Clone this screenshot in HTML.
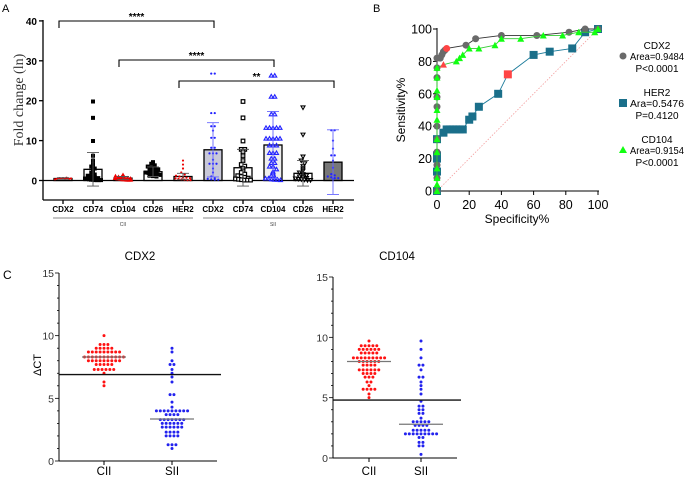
<!DOCTYPE html>
<html><head><meta charset="utf-8"><style>
body{margin:0;background:#fff;}
svg{display:block;font-family:"Liberation Sans",sans-serif;}
</style></head><body>
<svg id="fig" width="685" height="477" viewBox="0 0 685 477">
<g id="pa"></g>
<g id="pb"></g>
<g id="pc"></g>
</svg>
<script>
// ---------- Panel A data ----------
const aCats=["CDX2","CD74","CD104","CD26","HER2","CDX2","CD74","CD104","CD26","HER2"];
const aMeans=[0.5,2.8,0.6,2.2,1.0,7.7,3.2,8.9,1.8,4.6];
const aSD=[0.2,4.2,0.4,1.2,0.8,6.8,4.6,8.4,3.2,8.1];
const aPts0=[0.3,0.4,0.5,0.5,0.6,0.5,0.4,0.6,0.7,0.5,0.4,0.5];
const aPts1=[19.8,15.7,9.9,6.2,5,4,3.5,3,2.5,2,1.5,1.2,1,0.8,0.6,0.5,0.4,0.3,0.2,0.2,0.1,0.1,0.1,0.1];
const aPts2=[1.5,1.2,1,0.9,0.8,0.7,0.6,0.5,0.5,0.4,0.4,0.3,0.3,0.2,0.2,0.2,0.1,0.1,0.1,0.1,0.1];
const aPts3=[4.6,4.2,3.8,3.5,3.2,3,2.8,2.6,2.4,2.2,2,1.9,1.8,1.6,1.5,1.4,1.2,1.1,1];
const aPts4=[5,4,3,2,1.5,1.2,1,0.8,0.7,0.6,0.5,0.4,0.3,0.2,0.1,0.1];
const aPts5=[26.8,26.8,16.9,16.9,13.6,13.6,12.5,10.7,10.7,8.2,8.2,6.8,6.8,6.8,5.2,4.2,4.2,4.2,3,2,1,0.6,0.4,0.3,0.2,0.2];
const aPts6=[19.8,15.7,9.9,7.8,7.8,7.2,6.2,5,4,3.6,3,2.4,2,1.6,1.2,1,0.8,0.6,0.4,0.3,0.2,0.1,0.1,0.1];
const aPts7=[26.3,26.3,21,21,16.6,16.6,13.2,13.2,13.2,13.2,13.2,10.5,10.5,10.5,10.5,10.5,8.8,8.8,8.8,6.9,6.9,6.9,5.5,5.5,4.4,4.4,3.5,3.5,2.8,2.2,1.8,1.2,0.8,0.5,0.5,0.3,0.2,0.2,0.1];
const aPts8=[18.3,11.5,6,5,4.3,3.6,3,2.5,2,1.6,1.3,1,0.8,0.6,0.5,0.4,0.3,0.2,0.1,0.1];
const aPts9=[12.6,12.6,10,8,6.3,6.3,5,3.2,1.6,1.3,1,0.8,0.6,0.6,0.4];
const aPts=[aPts0,aPts1,aPts2,aPts3,aPts4,aPts5,aPts6,aPts7,aPts8,aPts9];
const aTicks=[0,10,20,30,40];

// ---------- Panel B data ----------
const cdx2Spec=[0,0,0,0,0,0,0,0,0,0,0,2,3,4,5,6,18,24,40,62,82,92,100];
const cdx2Sens=[0,8,16,24,32,40,52,58,70,76,82,82,84,86,87,88,90,94,96,96,98,100,100];
const her2Spec=[0,0,0,0,0,4,6,8,10,12,14,16,20,22,26,38,44,60,70,84,92,100];
const her2Sens=[0,12,20,22,32,36,38,38,38,38,38,38,44,46,52,60,72,84,86,88,98,100];
const cd104Spec=[0,0,0,0,0,0,0,0,0,0,0,0,4,12,14,16,20,26,36,40,52,66,78,88,98,100];
const cd104Sens=[0,4,8,14,24,32,44,50,58,62,70,76,78,80,82,84,88,88,90,94,94,96,96,98,98,100];
const bTicks=[0,20,40,60,80,100];

// ---------- Panel C data ----------
const cdx2CII=[10,9.3,9.3,9.3,9,9,9,9,9,8.7,8.7,8.7,8.7,8.7,8.7,8.7,8.7,8.7,8.3,8.3,8.3,8.3,8.3,8.3,8.3,8.3,8.3,8.3,8.3,8,8,8,8,8,8,8,8,8,7.7,7.7,7.7,7.7,7.7,7.3,7.3,7.3,7.3,7.3,7.3,7,6.3,6];
const cdx2SII=[9,8.7,8,7.7,7.7,7.3,7,6.7,6.3,5.3,5.3,4.7,4.3,4,4,4,4,4,4,4,4,4,3.7,3.7,3.7,3.7,3.3,3.3,3.3,3.3,3.3,3.3,3.3,3,3,3,3,3,3,2.7,2.7,2.7,2.7,2.7,2.7,2.3,2.3,2.3,2.3,2,2,2,2,1.3,1.3,1.3,1];
const cd104CII=[9.7,9.3,9.3,9.3,9.3,9.3,9,9,9,9,9,9,8.7,8.7,8.7,8.7,8.7,8.3,8.3,8.3,8.3,8.3,8.3,8.3,8.3,8.3,8,8,8,8,8,8,7.7,7.7,7.7,7.7,7.3,7.3,7.3,7.3,7.3,7.3,7,7,7,7,6.7,6.7,6.7,6.3,6.3,6,5.7,5.7,5.7,5.7,5.3,5];
const cd104SII=[9.7,9,8.3,7.7,7.7,7.3,6.7,6.7,6.3,6,5.7,5.3,4.7,4.3,4.3,4,4,3.7,3.7,3.3,3,3,3,3,3,2.7,2.7,2.7,2.7,2.3,2.3,2.3,2.3,2.3,2,2,2,2,2,2,2,2,2,1.7,1.7,1.3,1.3,1,1,0.3];
const cTicks=[0,5,10,15];
const cdx2Cut=[6.9], cdx2Med=[8.3,3.35];
const cd104Cut=[4.8], cd104Med=[8.0,2.8];

const NS="http://www.w3.org/2000/svg";
function mk(parent,tag,attrs,text){const e=document.createElementNS(NS,tag);for(const k in attrs)e.setAttribute(k,attrs[k]);if(text!==undefined)e.textContent=text;parent.appendChild(e);return e;}

// ===== Panel A =====
(function(){
const g=document.getElementById('pa');
const y=v=>180.5-v*3.99;
const x=i=>63+i*30;
let t=mk(g,'text',{x:2,y:12,'font-size':11});t.textContent='A';


let ax=mk(g,'line',{x1:43,y1:20,x2:43,y2:200,stroke:'#000','stroke-width':1.3});


let bx=mk(g,'line',{x1:43,y1:200,x2:354,y2:200,stroke:'#000','stroke-width':1.3});


let zl=mk(g,'line',{x1:43,y1:y(0),x2:354,y2:y(0),stroke:'#000','stroke-width':1.3});


aTicks.forEach(v=>{
  mk(g,'line',{x1:39,y1:y(v),x2:43,y2:y(v),stroke:'#000','stroke-width':1.3});
  const tl=mk(g,'text',{x:37,y:y(v)+4,'font-size':10,'font-weight':'bold','text-anchor':'end'},v);
  
  
});
let yl=mk(g,'text',{x:0,y:0,'font-size':14,'font-family':'Liberation Serif, serif',fill:'#333','text-anchor':'middle',transform:'translate(23,100) rotate(-90)'},'Fold change (ln)');


const fills=['#fff','#fff','#fff','#fff','#fff','#c8c8d8','#fff','#eee','#fff','#777'];
const colors=['#e00','#000','#e00','#000','#e00','#22f','#000','#22f','#000','#22f'];
const shapes=['dot','sq','tri','sq','dot','dot','osq','otri','otri2','dot'];
aCats.forEach((c,i)=>{
  const cx=x(i);
  const bar=mk(g,'rect',{x:cx-9,y:y(aMeans[i]),width:18,height:y(0)-y(aMeans[i]),fill:fills[i],stroke:'#000','stroke-width':1.3});
  
  
  const bins={};
  aPts[i].forEach(v=>{const k=Math.round(y(v)/3);bins[k]=(bins[k]||0)+1;});
  const used={};
  aPts[i].forEach(v=>{
    const k=Math.round(y(v)/3);const n=bins[k];const j=(used[k]=(used[k]||0)+1)-1;
    const px=cx+(j-(n-1)/2)*Math.min(3.5,18/Math.max(n,1));const py=y(v);
    let m;const col=colors[i];
    if(shapes[i]==='dot')m=mk(g,'circle',{cx:px,cy:py,r:1.1,fill:col});
    else if(shapes[i]==='sq')m=mk(g,'rect',{x:px-2,y:py-2,width:4,height:4,fill:col});
    else if(shapes[i]==='osq')m=mk(g,'rect',{x:px-1.8,y:py-1.8,width:3.6,height:3.6,fill:'#fff',stroke:col,'stroke-width':1.2});
    else if(shapes[i]==='tri')m=mk(g,'path',{d:`M${px-2},${py+1.5}L${px+2},${py+1.5}L${px},${py-2}Z`,fill:col});
    else if(shapes[i]==='otri')m=mk(g,'path',{d:`M${px-2},${py+1.5}L${px+2},${py+1.5}L${px},${py-2}Z`,fill:'none',stroke:col,'stroke-width':1.1});
    else m=mk(g,'path',{d:`M${px-2},${py-1.5}L${px+2},${py-1.5}L${px},${py+2}Z`,fill:'none',stroke:col,'stroke-width':1.1});
    
    
  });
  const ec=(i===5||i===7||i===9)?'#66f':'#555';
  const e=mk(g,'path',{d:`M${cx},${y(aMeans[i]+aSD[i])}V${y(aMeans[i]-aSD[i])}M${cx-6},${y(aMeans[i]+aSD[i])}H${cx+6}M${cx-6},${y(aMeans[i]-aSD[i])}H${cx+6}`,stroke:ec,'stroke-width':0.9,fill:'none'});
  
  
  mk(g,'line',{x1:cx,y1:200,x2:cx,y2:204,stroke:'#000','stroke-width':1.3});
  const cl=mk(g,'text',{x:cx,y:212,'font-size':8,'font-weight':'bold','text-anchor':'middle'},c);
  
  
});
[[53,193,'CII',123],[203,343,'SII',273]].forEach(d=>{
  mk(g,'line',{x1:d[0],y1:218,x2:d[1],y2:218,stroke:'#888','stroke-width':1});
  const gl=mk(g,'text',{x:d[3],y:226,'font-size':5,'text-anchor':'middle',fill:'#444'},d[2]);
  
  
});
[[0,5,21,'****'],[2,7,60,'****'],[4,9,81,'**']].forEach(b=>{
  const x1=x(b[0])-4,x2=x(b[1])+1;
  const br=mk(g,'path',{d:`M${x1},${b[2]+7}V${b[2]}H${x2}V${b[2]+7}`,stroke:'#000','stroke-width':1.1,fill:'none'});
  
  
  const st=mk(g,'text',{x:(x1+x2)/2,y:b[2]-1,'font-size':10,'font-weight':'bold','text-anchor':'middle'},b[3]);
  
  
});
})();

// ===== Panel B =====
(function(){
const g=document.getElementById('pb');
const X=v=>437+v*1.61, Y=v=>191-v*1.62;
let t=mk(g,'text',{x:373,y:12,'font-size':11},'B');


let dg=mk(g,'line',{x1:X(0),y1:Y(0),x2:X(100),y2:Y(100),stroke:'#f3a0a0','stroke-width':0.8,'stroke-dasharray':'1.5,1.5'});


mk(g,'line',{x1:X(0),y1:Y(100)-1,x2:X(0),y2:Y(0),stroke:'#000','stroke-width':1});
mk(g,'line',{x1:X(0),y1:Y(0),x2:X(100)+1,y2:Y(0),stroke:'#000','stroke-width':1});
bTicks.forEach(v=>{
  mk(g,'line',{x1:X(0)-4,y1:Y(v),x2:X(0),y2:Y(v),stroke:'#000'});
  mk(g,'line',{x1:X(v),y1:Y(0),x2:X(v),y2:Y(0)+4,stroke:'#000'});
  const a=mk(g,'text',{x:X(0)-5,y:Y(v)+4.5,'font-size':12.5,'text-anchor':'end'},v);
  
  
  const b=mk(g,'text',{x:X(v),y:209,'font-size':12.5,'text-anchor':'middle'},v);
  
  
});
let yt=mk(g,'text',{x:0,y:0,'font-size':12,'text-anchor':'middle',transform:'translate(405,110) rotate(-90)'},'Sensitivity%');


let xt=mk(g,'text',{x:517,y:223,'font-size':12,'text-anchor':'middle'},'Specificity%');


function series(sp,se,line,col,shape,name,hi){
  const l=mk(g,'polyline',{points:sp.map((s,i)=>X(s)+','+Y(se[i])).join(' '),fill:'none',stroke:line,'stroke-width':0.9});
  
  
  sp.forEach((s,i)=>{
    const c=(i===hi)?'#f44':col;const px=X(s),py=Y(se[i]);let m;
    if(shape==='c')m=mk(g,'circle',{cx:px,cy:py,r:3.5,fill:c});
    else if(shape==='s')m=mk(g,'rect',{x:px-4,y:py-4,width:8,height:8,fill:c});
    else m=mk(g,'path',{d:`M${px-3.5},${py+3}L${px+3.5},${py+3}L${px},${py-3.5}Z`,fill:c});
    
    
  });
}
series(her2Spec,her2Sens,'#1a7a9a','#1a6f8a','s','her2',16);
series(cdx2Spec,cdx2Sens,'#333','#6a6a6a','c','cdx2',15);
series(cd104Spec,cd104Sens,'#3c3','#1f1','t','cd104',12);
const leg=[['CDX2','Area=0.9484','P<0.0001',45,'c','#6a6a6a'],['HER2','Ara=0.5476','P=0.4120',92,'s','#1a6f8a'],['CD104','Area=0.9154','P<0.0001',139,'t','#1f1']];
leg.forEach(L=>{
  const lg=mk(g,'g',{});
  
  
  mk(lg,'text',{x:657,y:L[3]+4,'font-size':10,'text-anchor':'middle'},L[0]);
  mk(lg,'text',{x:630,y:L[3]+15,'font-size':10,textLength:54,lengthAdjust:'spacingAndGlyphs'},L[1]);
  mk(lg,'text',{x:657,y:L[3]+27,'font-size':10,'text-anchor':'middle'},L[2]);
  const mx=623,my=L[3]+11;
  if(L[4]==='c')mk(lg,'circle',{cx:mx,cy:my,r:3.5,fill:L[5]});
  else if(L[4]==='s')mk(lg,'rect',{x:mx-4,y:my-4,width:8,height:8,fill:L[5]});
  else mk(lg,'path',{d:`M${mx-4},${my+3}L${mx+4},${my+3}L${mx},${my-4}Z`,fill:L[5]});
});
})();

// ===== Panel C =====
(function(){
const g=document.getElementById('pc');
let t=mk(g,'text',{x:3,y:279,'font-size':12},'C');


function dot(title,ax0,axEnd,y0,y15,xc,xs,cii,sii,cut,med,tag,ylab){
  const sub=mk(g,'g',{});
  
  
  const Y=v=>y0-v*(y0-y15)/15;
  const tt=mk(sub,'text',{x:(ax0+axEnd)/2+2,y:260,'font-size':11.5,'text-anchor':'middle'},title);
  
  
  mk(sub,'line',{x1:ax0,y1:y15,x2:ax0,y2:y0,stroke:'#000'});
  mk(sub,'line',{x1:ax0,y1:y0,x2:axEnd,y2:y0,stroke:'#000'});
  for(let v=0;v<=15;v++)mk(sub,'line',{x1:ax0-(v%5?2:4),y1:Y(v),x2:ax0,y2:Y(v),stroke:'#000','stroke-width':0.8});
  cTicks.forEach(v=>{
    const l=mk(sub,'text',{x:ax0-5,y:Y(v)+4,'font-size':10.5,'text-anchor':'end',fill:'#333'},v);
    
    
  });
  [[xc,'CII',cii,'#f11'],[xs,'SII',sii,'#22e']].forEach((grp,gi)=>{
    mk(sub,'line',{x1:grp[0],y1:y0,x2:grp[0],y2:y0+4,stroke:'#000'});
    const l=mk(sub,'text',{x:grp[0],y:475,'font-size':11.5,'text-anchor':'middle'},grp[1]);
    
    
    const cnt={},used={};
    grp[2].forEach(v=>{cnt[v]=(cnt[v]||0)+1;});
    grp[2].forEach(v=>{
      const j=(used[v]=(used[v]||0)+1)-1;
      const c=mk(sub,'circle',{cx:grp[0]+(j-(cnt[v]-1)/2)*3.9,cy:Y(v),r:1.5,fill:grp[3]});
      
      
    });
    const m=mk(sub,'line',{x1:grp[0]-22,y1:Y(med[gi]),x2:grp[0]+22,y2:Y(med[gi]),stroke:'#777','stroke-width':1.2});
    
    
  });
  const cl=mk(sub,'line',{x1:ax0,y1:Y(cut[0]),x2:axEnd+4,y2:Y(cut[0]),stroke:'#111','stroke-width':1.4});
  
  
  if(ylab){const yl=mk(sub,'text',{x:0,y:0,'font-size':11,'text-anchor':'middle',transform:'translate(41,365) rotate(-90)'},'ΔCT');
    
    }
}
dot('CDX2',59,217,461,273,104,172,cdx2CII,cdx2SII,cdx2Cut,cdx2Med,'cdx2',true);
dot('CD104',333,457,458,277,369,421,cd104CII,cd104SII,cd104Cut,cd104Med,'cd104',false);
})();
</script>
</body></html>
